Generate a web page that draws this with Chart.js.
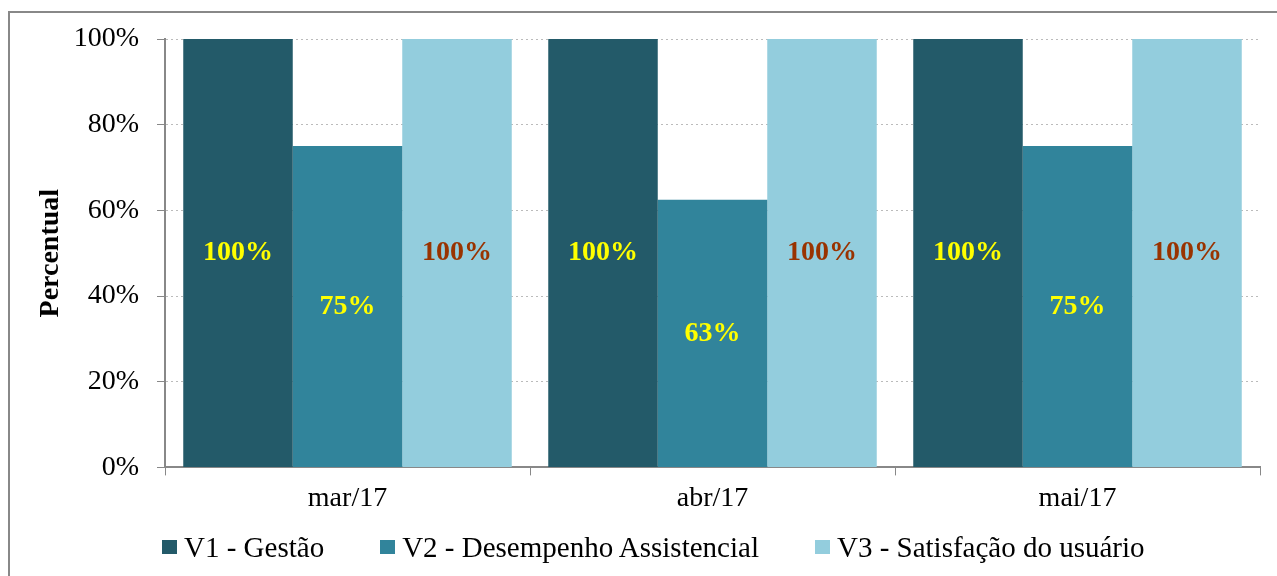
<!DOCTYPE html>
<html>
<head>
<meta charset="utf-8">
<script src="https://cdn.jsdelivr.net/npm/chart.js@4/dist/chart.umd.min.js"></script>
<style>
    body { margin: 0; background: #fff; overflow: hidden; }
    #wrap { position: relative; width: 1277px; height: 576px; overflow: hidden; }
    #frame { position: absolute; left: 8px; top: 11px; width: 1400px; height: 700px; border: 2px solid #888; box-sizing: border-box; }
    canvas { position: absolute; left: 0; top: 0; }
    #legend { position: absolute; left: 162px; top: 530px; display: flex; font-family: 'Liberation Serif', 'Times New Roman', serif; font-size: 29px; line-height: 34px; color: #000; white-space: nowrap; }
    #legend .item { display: flex; align-items: center; margin-right: 56px; }
    #legend .box { width: 15px; height: 14px; margin-right: 7px; }
</style>
</head>
<body>
<div id="wrap">
    <div id="frame"></div>
    <canvas id="chart" width="1277" height="576"></canvas>
    <div id="legend"></div>
</div>
<script>
const months = ["mar/17", "abr/17", "mai/17"];
const v1Gestao = [100, 100, 100];
const v2Desempenho = [75, 62.5, 75];
const v3Satisfacao = [100, 100, 100];
const seriesNames = ["V1 - Gestão", "V2 - Desempenho Assistencial", "V3 - Satisfação do usuário"];
const seriesColors = ['#235A69', '#31849B', '#93CDDD'];
const labelColors = ['#FFFF00', '#FFFF00', '#993300'];
const yTicks = [0, 20, 40, 60, 80, 100];

const serif = "'Liberation Serif', 'Times New Roman', serif";

// rótulos de valor no meio de cada barra
const valueLabels = {
    id: 'valueLabels',
    afterDatasetsDraw(chart) {
        const ctx = chart.ctx;
        ctx.save();
        ctx.font = "bold 28px " + serif;
        ctx.textAlign = "center";
        ctx.textBaseline = "middle";
        chart.data.datasets.forEach((ds, i) => {
            const meta = chart.getDatasetMeta(i);
            meta.data.forEach((bar, j) => {
                ctx.fillStyle = labelColors[i];
                ctx.fillText(Math.round(ds.data[j]) + "%", bar.x, (bar.y + bar.base) / 2);
            });
        });
        ctx.restore();
    }
};

const ctx = document.getElementById('chart').getContext('2d');
new Chart(ctx, {
    type: 'bar',
    data: {
        labels: months,
        datasets: [
            { label: seriesNames[0], data: v1Gestao, backgroundColor: seriesColors[0] },
            { label: seriesNames[1], data: v2Desempenho, backgroundColor: seriesColors[1] },
            { label: seriesNames[2], data: v3Satisfacao, backgroundColor: seriesColors[2] }
        ]
    },
    options: {
        responsive: false,
        animation: false,
        devicePixelRatio: 1,
        layout: { padding: { left: 0, right: 17, top: 39, bottom: 55 } },
        datasets: { bar: { categoryPercentage: 0.9, barPercentage: 1 } },
        plugins: {
            legend: { display: false },
            tooltip: { enabled: false }
        },
        scales: {
            x: {
                grid: { display: true, drawOnChartArea: false, tickLength: 8, tickColor: '#888', offset: true },
                border: { color: '#888', width: 2 },
                ticks: { font: { family: serif, size: 28 }, color: '#000', padding: 6 }
            },
            y: {
                min: 0,
                max: 100,
                afterBuildTicks(scale) { scale.ticks = yTicks.map(v => ({ value: v })); },
                afterFit(scale) { scale.width = 165; },
                grid: { color: '#bbb', tickColor: '#888', tickLength: 8, lineWidth: 1 },
                border: { color: '#888', width: 2, dash: [2, 3] },
                ticks: {
                    font: { family: serif, size: 28 },
                    color: '#000',
                    padding: 18,
                    callback: v => v + '%'
                },
                title: {
                    display: true,
                    text: 'Percentual',
                    font: { family: serif, size: 28, weight: 'bold' },
                    color: '#000',
                    padding: { top: 34, bottom: 0 }
                }
            }
        }
    },
    plugins: [valueLabels]
});

// legenda em HTML (espaçamento igual ao original)
const legend = document.getElementById('legend');
seriesNames.forEach((name, i) => {
    const item = document.createElement('div');
    item.className = 'item';
    item.innerHTML = `<span class="box" style="background:${seriesColors[i]}"></span><span>${name}</span>`;
    legend.appendChild(item);
});
</script>
</body>
</html>
